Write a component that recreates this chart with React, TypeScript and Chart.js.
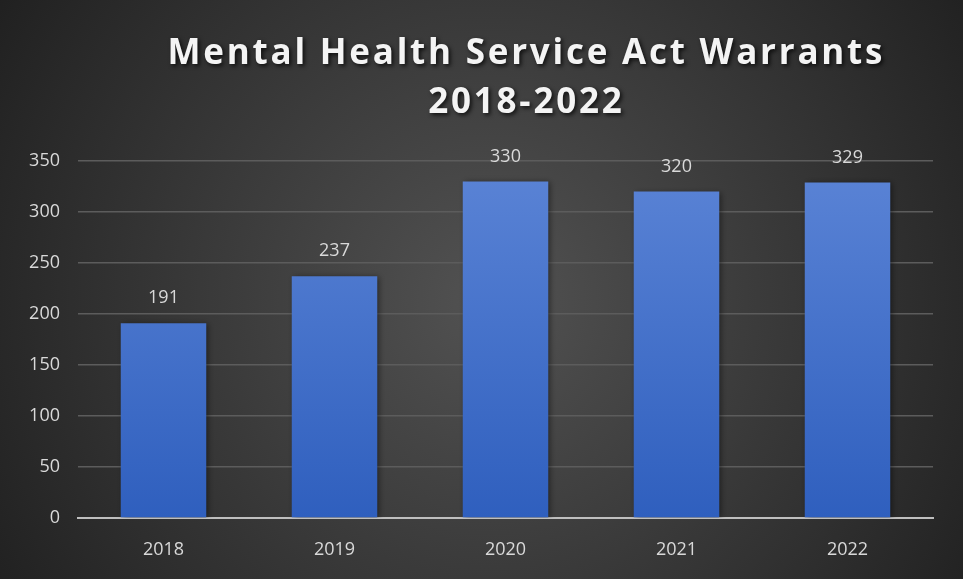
import React, { useEffect, useRef } from "react";
import { Chart, registerables } from "chart.js";
Chart.register(...registerables);

const years = ["2018", "2019", "2020", "2021", "2022"];
const warrants = [191, 237, 330, 320, 329];
const titleLines = ["Mental Health Service Act Warrants", "2018-2022"];
const yMax = 350;
const yStep = 50;

export default function App() {
  const ref = useRef<HTMLCanvasElement>(null);
  useEffect(() => {
    const canvas = ref.current!;
    const bgPlugin = {
      id: "bg",
      beforeDraw(chart: any) {
        const { ctx, width, height } = chart;
        const g = ctx.createRadialGradient(490, 300, 0, 490, 300, 640);
        g.addColorStop(0, "#525252");
        g.addColorStop(1, "#1b1b1b");
        ctx.save();
        ctx.fillStyle = g;
        ctx.fillRect(0, 0, width, height);
        ctx.restore();
      },
    };
    const titlePlugin = {
      id: "ttl",
      afterDraw(chart: any) {
        const ctx = chart.ctx;
        ctx.save();
        ctx.font = "bold 35px 'Open Sans', sans-serif";
        const w = ctx.measureText(titleLines[0]).width;
        const ls = Math.max(0, (715 - w) / (titleLines[0].length - 1));
        (ctx as any).letterSpacing = ls.toFixed(2) + "px";
        ctx.fillStyle = "#f4f4f4";
        ctx.textAlign = "center";
        ctx.textBaseline = "alphabetic";
        ctx.shadowColor = "rgba(0,0,0,0.75)";
        ctx.shadowBlur = 4;
        ctx.shadowOffsetX = 2;
        ctx.shadowOffsetY = 2;
        ctx.fillText(titleLines[0], 525 + ls / 2, 64);
        ctx.fillText(titleLines[1], 525 + ls / 2, 113);
        ctx.restore();
      },
    };
    const shadowPlugin = {
      id: "barShadow",
      beforeDatasetsDraw(chart: any) {
        const ctx = chart.ctx;
        ctx.save();
        ctx.shadowColor = "rgba(0,0,0,0.45)";
        ctx.shadowBlur = 6;
        ctx.shadowOffsetX = 2;
        ctx.shadowOffsetY = 1;
      },
      afterDatasetsDraw(chart: any) {
        chart.ctx.restore();
      },
    };
    const labelPlugin = {
      id: "vals",
      afterDatasetsDraw(chart: any) {
        const ctx = chart.ctx;
        const meta = chart.getDatasetMeta(0);
        ctx.save();
        ctx.font = "18px 'Open Sans', sans-serif";
        ctx.fillStyle = "#d9d9d9";
        ctx.textAlign = "center";
        ctx.textBaseline = "middle";
        meta.data.forEach((bar: any, i: number) => {
          ctx.fillText(String(warrants[i]), bar.x, bar.y - 25);
        });
        ctx.restore();
      },
    };
    const chart = new Chart(canvas, {
      type: "bar",
      data: {
        labels: years,
        datasets: [
          {
            data: warrants,
            backgroundColor: (c: any) => {
              const area = c.chart.chartArea;
              if (!area) return "#4472c4";
              const g = c.chart.ctx.createLinearGradient(0, area.top, 0, area.bottom);
              g.addColorStop(0, "#5b84d6");
              g.addColorStop(1, "#2f5fbe");
              return g;
            },
            borderWidth: 0,
            barPercentage: 0.5,
            categoryPercentage: 1,
          },
        ],
      },
      options: {
        responsive: false,
        animation: false,
        layout: { padding: { top: 161, right: 30, left: 0, bottom: 0 } },
        plugins: {
          legend: { display: false },
          title: { display: false },
          tooltip: { enabled: false },
        },
        scales: {
          x: {
            grid: { display: false },
            border: { display: true, color: "#bfbfbf", width: 2 },
            ticks: {
              color: "#d9d9d9",
              font: { family: "'Open Sans', sans-serif", size: 18 },
              padding: 13,
            },
            afterFit(s: any) {
              s.height = 61;
            },
          },
          y: {
            min: 0,
            max: yMax,
            ticks: {
              stepSize: yStep,
              color: "#d9d9d9",
              font: { family: "'Open Sans', sans-serif", size: 18 },
              padding: 18,
            },
            grid: { color: "#5c5c5c", lineWidth: 1.5, drawTicks: false },
            border: { display: false },
            afterFit(s: any) {
              s.width = 78;
            },
          },
        },
      },
      plugins: [bgPlugin, shadowPlugin, labelPlugin, titlePlugin],
    });
    return () => chart.destroy();
  }, []);
  return (
    <div style={{ position: "absolute", left: 0, top: 0, width: 963, height: 579 }}>
      <canvas ref={ref} width={963} height={579} style={{ display: "block" }} />
    </div>
  );
}
